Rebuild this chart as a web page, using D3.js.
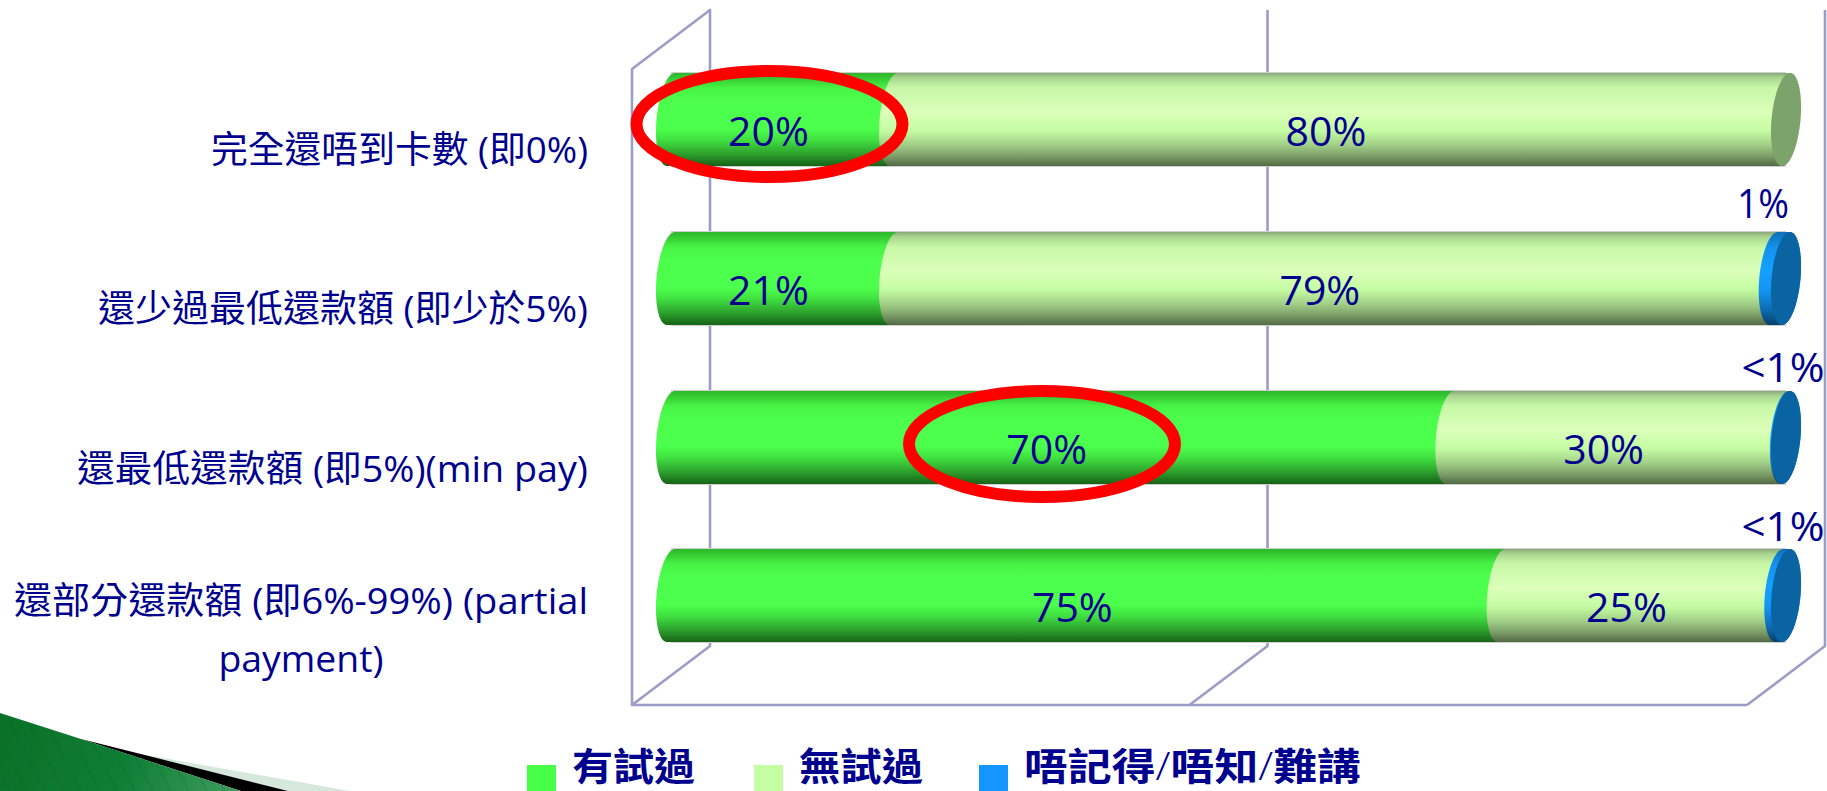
<!DOCTYPE html>
<html><head><meta charset="utf-8">
<style>html,body{margin:0;padding:0;background:#fff;overflow:hidden}svg{display:block}
text{font-family:"Open Sans","Noto Sans CJK TC","Noto Sans",sans-serif;fill:#00008f}</style>
<script src="https://cdn.jsdelivr.net/npm/d3@7"></script></head><body>
<svg id="c" width="1827" height="791"></svg>
<script>
// ---- data ----
const categoryLines = [
  ["完全還唔到卡數 (即0%)"],
  ["還少過最低還款額 (即少於5%)"],
  ["還最低還款額 (即5%)(min pay)"],
  ["還部分還款額 (即6%-99%) (partial","payment)"]
];
const seriesNames = ["有試過","無試過","唔記得/唔知/難講"];
const triedValues   = [20, 20, 69.9, 74.5];
const notTriedValues= [80, 78.9, 30, 24.9];
const unknownValues = [0, 1.1, 0.1, 0.6];
const triedLabels   = ["20%","21%","70%","75%"];
const notTriedLabels= ["80%","79%","30%","25%"];
const unknownLabels = ["","1%","<1%","<1%"];
const xTicks = [0,50,100];

// ---- layout ----
const svg = d3.select("#c");
const x = d3.scaleLinear().domain([0,100]).range([632,1747]);
const depth = {dx:78, dy:-59, top:10};
const frameFront = 705;
const barOff = depth.dx/2;
const bh = 93, rx = 14.5, skew = 4;
const rowY = [73,232,391,549];
const X = v => x(v)+barOff;

// ---- gradients ----
const defs = svg.append("defs");
function grad(id, stops){
  const g = defs.append("linearGradient").attr("id",id).attr("x1",0).attr("x2",0).attr("y1",0).attr("y2",1);
  stops.forEach(s=>g.append("stop").attr("offset",s[0]).attr("stop-color",s[1]));
}
grad("g0",[[0,"#2fb52c"],[0.04,"#33c430"],[0.16,"#47f344"],[0.3,"#4cff4c"],[0.6,"#4cff4c"],[0.72,"#40e040"],[0.86,"#2ea52e"],[1,"#176317"]]);
grad("g1",[[0,"#8aa87a"],[0.05,"#a8d48e"],[0.16,"#c6f8a6"],[0.42,"#dcffba"],[0.62,"#c4fca2"],[0.78,"#a0cd86"],[0.9,"#7a9b66"],[1,"#526a44"]]);
grad("g2",[[0,"#0f6fb5"],[0.16,"#1491ec"],[0.4,"#14a0ff"],[0.62,"#1396f5"],[0.85,"#0d68ad"],[1,"#083e68"]]);
const corner = defs.append("linearGradient").attr("id","cg").attr("gradientUnits","userSpaceOnUse")
  .attr("x1",0).attr("y1",720).attr("x2",230).attr("y2",791);
corner.append("stop").attr("offset",0).attr("stop-color","#0a7028");
corner.append("stop").attr("offset",0.55).attr("stop-color","#0f7f35");
corner.append("stop").attr("offset",1).attr("stop-color","#3a9a5a");
const pat = defs.append("pattern").attr("id","st").attr("width",16).attr("height",16)
  .attr("patternUnits","userSpaceOnUse").attr("patternTransform","rotate(-27)");
pat.append("rect").attr("width",2).attr("height",16).attr("fill","#0a5a24").attr("opacity",0.16);

// ---- corner decoration ----
const cornerShapes = [
  {pts:[[135,753],[350,791],[288,791]],fill:"#d6e8dc"},
  {pts:[[81,739],[288,791],[241,791]],fill:"#000"},
  {pts:[[0,713],[81,739],[241,791],[0,791]],fill:"url(#cg)"},
  {pts:[[0,713],[81,739],[241,791],[0,791]],fill:"url(#st)"}
];
svg.selectAll(".corner").data(cornerShapes).join("polygon").attr("class","corner")
  .attr("points",d=>d.pts.join(" ")).attr("fill",d=>d.fill);

// ---- 3D frame from the x scale ----
const frame = svg.append("g").attr("fill","none").attr("stroke","#9c9cc8").attr("stroke-width",2.6).attr("stroke-linejoin","round");
const backBottom = frameFront+depth.dy;
frame.append("path").attr("d",`M${x(0)},${frameFront}V${depth.top-depth.dy}L${x(0)+depth.dx},${depth.top}V${backBottom}L${x(0)},${frameFront}H${x(100)}`);
xTicks.slice(1).forEach(t=>{
  frame.append("path").attr("d",`M${x(t)},${frameFront}L${x(t)+depth.dx},${backBottom}V${depth.top}`);
});

// ---- cylinders ----
function ellipsePts(cx,cy,ry,a0,a1,n=48){
  return d3.range(n+1).map(i=>{
    const t=a0+(a1-a0)*i/n;
    return [cx+rx*Math.cos(t)-skew*Math.sin(t), cy+ry*Math.sin(t)];
  });
}
const line = d3.line();
function seg(x0,x1,cy,ry){
  const left = ellipsePts(x0,cy,ry,-Math.PI/2,-3*Math.PI/2);
  const right= ellipsePts(x1,cy,ry,Math.PI/2,-Math.PI/2);
  return line(left.concat(right))+"Z";
}
const series = [triedValues,notTriedValues,unknownValues];
const labels = [triedLabels,notTriedLabels,unknownLabels];
d3.range(4).forEach(r=>{
  const cy = rowY[r]+bh/2, ry = bh/2;
  const g = svg.append("g");
  g.append("rect").attr("x",X(0)).attr("width",x(100)-x(0)).attr("y",rowY[r]-1).attr("height",bh+2).attr("fill","#cfcfcf");
  let acc=0;
  series.forEach((s,k)=>{
    const v=s[r];
    if(v>0){ g.append("path").attr("d",seg(X(acc),X(acc+v),cy,ry)).attr("fill",`url(#g${k})`); }
    acc+=v;
  });
  const capColor = unknownValues[r]>0 ? "#0b64a2" : "#7ca36c";
  g.append("path").attr("d",line(ellipsePts(X(100),cy,ry,0,2*Math.PI,72))+"Z").attr("fill",capColor);
  let a=0;
  [0,1].forEach(k=>{
    const v=series[k][r];
    svg.append("text").attr("class","val").attr("x",X(a+v/2)-14).attr("y",cy+26)
      .attr("text-anchor","middle").attr("font-size",41).text(labels[k][r]);
    a+=v;
  });
});
// small outside labels
const smallBase = [0,218,382,541];
const smallX = [0,1763,1783,1783];
const smallW = [0,52,83,83];
d3.range(1,4).forEach(r=>{
  svg.append("text").attr("x",smallX[r]).attr("y",smallBase[r]).attr("text-anchor","middle")
    .attr("font-size",41).attr("textLength",smallW[r]).attr("lengthAdjust","spacingAndGlyphs").text(labels[2][r]);
});

// ---- red highlight rings ----
const ring = [[769.5,124],[1042,444]];
svg.selectAll(".ring").data(ring).join("ellipse").attr("class","ring")
  .attr("cx",d=>d[0]).attr("cy",d=>d[1]).attr("rx",133).attr("ry",53)
  .attr("fill","none").attr("stroke","#ff0000").attr("stroke-width",12);

// ---- category labels ----
const labY = [[163],[322],[482],[614,672]];
const labW = [[377],[490],[511],[574,165]];
const labRight = 588;
categoryLines.forEach((ls,r)=>ls.forEach((t,i)=>{
  svg.append("text").attr("x",labRight-labW[r][0]/2).attr("y",labY[r][i]).attr("text-anchor","middle")
    .attr("font-size",37).attr("font-family",'"Noto Sans","Noto Sans CJK TC",sans-serif')
    .attr("textLength",labW[r][i]).attr("lengthAdjust","spacingAndGlyphs").text(t);
}));

// ---- legend ----
const legendX = [527,754,979], legendW=[123,124,337];
const legendColors=["#47ff47","#c4ffa4","#1396ff"];
seriesNames.forEach((n,i)=>{
  svg.append("rect").attr("x",legendX[i]).attr("y",765).attr("width",29).attr("height",26).attr("fill",legendColors[i]);
  const t = svg.append("text").attr("x",legendX[i]+45).attr("y",780).attr("font-size",38)
    .attr("font-family",'"Noto Sans CJK TC",sans-serif')
    .attr("textLength",legendW[i]).attr("lengthAdjust","spacingAndGlyphs");
  n.split(/(\/)/).forEach(p=>t.append("tspan").attr("font-weight",p==="/"?300:700).text(p));
});
</script></body></html>
